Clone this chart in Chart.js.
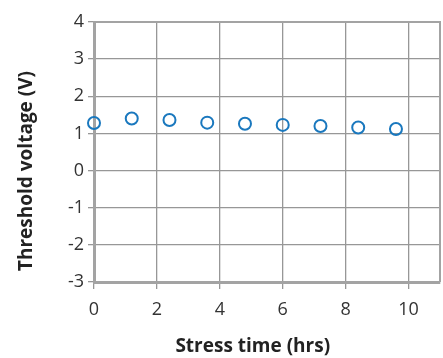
<!DOCTYPE html>
<html>
<head>
<meta charset="utf-8">
<script src="https://cdn.jsdelivr.net/npm/chart.js@4"></script>
<style>
  html, body { margin: 0; padding: 0; background: #fff; }
  #wrap { width: 443px; height: 358px; }
</style>
</head>
<body>
<div id="wrap"><canvas id="myChart" width="443" height="358"></canvas></div>
<script>
const stressTime = [0, 1.2, 2.4, 3.6, 4.8, 6.0, 7.2, 8.4, 9.6]
const thresholdVoltage = [1.28, 1.40, 1.36, 1.29, 1.26, 1.23, 1.20, 1.16, 1.12]
const xTicks = [0, 2, 4, 6, 8, 10]
const yTicks = [-3, -2, -1, 0, 1, 2, 3, 4]

const gridGris = "#979797"
const bordeGris = "#a3a3a3"
const azul = "#1a78be"

// espacios al final para correr los titulos como en el original
const relleno = (n) => "\u2002".repeat(n)

// marco alrededor del area del grafico (arriba y derecha)
const marco = {
    id: "marco",
    afterDatasetsDraw(chart) {
        const a = chart.chartArea
        const ctx = chart.ctx
        ctx.save()
        ctx.strokeStyle = bordeGris
        ctx.lineWidth = 2
        ctx.beginPath()
        ctx.moveTo(a.left, a.top)
        ctx.lineTo(a.right, a.top)
        ctx.lineTo(a.right, a.bottom)
        ctx.stroke()
        ctx.restore()
    }
}

const datos = stressTime.map((t, i) => ({ x: t, y: thresholdVoltage[i] }))

const config = {
    type: "scatter",
    data: {
        datasets: [
            {
                data: datos,
                borderColor: azul,
                backgroundColor: "rgba(0,0,0,0)",
                borderWidth: 2,
                pointRadius: 6,
                clip: false
            }
        ]
    },
    options: {
        responsive: false,
        animation: false,
        layout: {
            autoPadding: false,
            padding: { top: 22, right: 3, left: 0, bottom: 0 }
        },
        plugins: {
            legend: { display: false },
            tooltip: { enabled: false }
        },
        scales: {
            x: {
                type: "linear",
                min: 0,
                max: 11,
                afterBuildTicks: (scale) => { scale.ticks = xTicks.map(v => ({ value: v })) },
                afterFit: (scale) => {
                    scale.height = 76
                    scale.paddingLeft = 0
                    scale.paddingRight = 0
                },
                grid: { color: gridGris, lineWidth: 1.3, tickLength: 7 },
                border: { color: bordeGris, width: 3 },
                ticks: {
                    color: "#333",
                    padding: 10,
                    font: { family: "Open Sans", size: 18 }
                },
                title: {
                    display: true,
                    text: "Stress time (hrs)" + relleno(3),
                    color: "#222",
                    padding: { top: 1, bottom: 0 },
                    font: { family: "Open Sans", size: 19, weight: "bold" }
                }
            },
            y: {
                min: -3,
                max: 4,
                afterBuildTicks: (scale) => { scale.ticks = yTicks.map(v => ({ value: v })) },
                afterFit: (scale) => {
                    scale.width = 94
                    scale.paddingTop = 0
                    scale.paddingBottom = 0
                },
                grid: { color: gridGris, lineWidth: 1.3, tickLength: 6 },
                border: { color: bordeGris, width: 3 },
                ticks: {
                    color: "#333",
                    padding: 4,
                    font: { family: "Open Sans", size: 18 }
                },
                title: {
                    display: true,
                    text: "Threshold voltage (V)" + relleno(4),
                    color: "#222",
                    padding: { top: 15, bottom: 0 },
                    font: { family: "Open Sans", size: 19, weight: "bold" }
                }
            }
        }
    },
    plugins: [marco]
}

new Chart(document.getElementById("myChart"), config)
</script>
</body>
</html>
